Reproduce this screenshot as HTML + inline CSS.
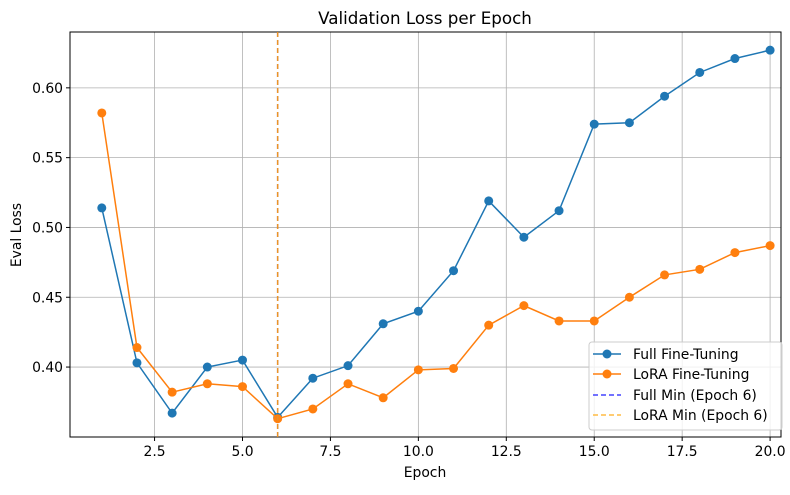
<!DOCTYPE html>
<html><head><meta charset="utf-8"><style>
body{margin:0;background:#fff;font-family:"Liberation Sans","DejaVu Sans",sans-serif}
svg text{font-family:"DejaVu Sans","Liberation Sans",sans-serif}
</style></head><body>
<svg id="chart" width="790" height="490" viewBox="0 0 790 490" xmlns="http://www.w3.org/2000/svg">
<rect width="790" height="490" fill="#fff"/>
<g id="grid"></g>
<g id="axes"></g>
<g id="marks"></g>
<text x="425" y="24" text-anchor="middle" font-size="16.7" fill="#000">Validation Loss per Epoch</text>
<text x="425" y="477" text-anchor="middle" font-size="13.9" fill="#000">Epoch</text>
<text x="21" y="235" text-anchor="middle" font-size="13.9" fill="#000" transform="rotate(-90 21 235)">Eval Loss</text>
<g>
<rect x="589" y="342" width="193" height="88" rx="3" fill="#fff" fill-opacity="0.8" stroke="#ccc"/>
<line x1="593" y1="354" x2="621" y2="354" stroke="#1f77b4" stroke-width="1.5"/><circle cx="607" cy="354" r="4.5" fill="#1f77b4"/>
<text x="633" y="359" font-size="13.9">Full Fine-Tuning</text>
<line x1="593" y1="374" x2="621" y2="374" stroke="#ff7f0e" stroke-width="1.5"/><circle cx="607" cy="374" r="4.5" fill="#ff7f0e"/>
<text x="633" y="379" font-size="13.9">LoRA Fine-Tuning</text>
<line x1="593" y1="395" x2="621" y2="395" stroke="#4444ff" stroke-width="1.5" stroke-dasharray="5,3"/>
<text x="633" y="400" font-size="13.9">Full Min (Epoch 6)</text>
<line x1="593" y1="415" x2="621" y2="415" stroke="#ffbb44" stroke-width="1.5" stroke-dasharray="5,3"/>
<text x="633" y="420" font-size="13.9">LoRA Min (Epoch 6)</text>
</g>
</svg>
<script>
const epochs=[1,2,3,4,5,6,7,8,9,10,11,12,13,14,15,16,17,18,19,20];
const fullLoss=[0.514,0.403,0.367,0.400,0.405,0.364,0.392,0.401,0.431,0.440,0.469,0.519,0.493,0.512,0.574,0.575,0.594,0.611,0.621,0.627];
const loraLoss=[0.582,0.414,0.382,0.388,0.386,0.363,0.370,0.388,0.378,0.398,0.399,0.430,0.444,0.433,0.433,0.450,0.466,0.470,0.482,0.487];
const xTicks=[2.5,5.0,7.5,10.0,12.5,15.0,17.5,20.0];
const yTicks=[0.40,0.45,0.50,0.55,0.60];
const fullMinEpoch=6, loraMinEpoch=6;
const L=70,R=781,T=32,B=437,xMin=0.096,xMax=20.31,yMin=0.3499,yMax=0.640;
const sx=v=>L+(v-xMin)/(xMax-xMin)*(R-L);
const sy=v=>B-(v-yMin)/(yMax-yMin)*(B-T);
const NS="http://www.w3.org/2000/svg";
function mk(tag,attrs,parent){const e=document.createElementNS(NS,tag);for(const k in attrs)e.setAttribute(k,attrs[k]);parent.appendChild(e);return e;}
const grid=document.getElementById('grid'),axes=document.getElementById('axes'),marks=document.getElementById('marks');
xTicks.forEach(t=>{const x=sx(t);
 const g=mk('line',{x1:x,x2:x,y1:T,y2:B,stroke:'#b0b0b0','stroke-width':0.8},grid);
 
 
 mk('line',{x1:x,x2:x,y1:B,y2:B+4,stroke:'#000'},axes);
 const tx=mk('text',{x:x,y:B+19,'text-anchor':'middle','font-size':13.9},axes);tx.textContent=t.toFixed(1);
 
 
});
yTicks.forEach(t=>{const y=sy(t);
 const g=mk('line',{x1:L,x2:R,y1:y,y2:y,stroke:'#b0b0b0','stroke-width':0.8},grid);
 
 
 mk('line',{x1:L-4,x2:L,y1:y,y2:y,stroke:'#000'},axes);
 const tx=mk('text',{x:L-7,y:y+5,'text-anchor':'end','font-size':13.9},axes);tx.textContent=t.toFixed(2);
 
 
});
mk('rect',{x:L,y:T,width:R-L,height:B-T,fill:'none',stroke:'#000','stroke-width':1},axes);
function series(vals,color,name){
 const p=mk('polyline',{points:epochs.map((e,i)=>sx(e)+','+sy(vals[i])).join(' '),fill:'none',stroke:color,'stroke-width':1.5},marks);
 
 
 epochs.forEach((e,i)=>{const c=mk('circle',{cx:sx(e),cy:sy(vals[i]),r:4.5,fill:color},marks);
  
  });
}
series(fullLoss,'#1f77b4','full');
series(loraLoss,'#ff7f0e','lora');
const v1=mk('line',{x1:sx(fullMinEpoch),x2:sx(fullMinEpoch),y1:T,y2:B,stroke:'#4444ff','stroke-opacity':0.7,'stroke-width':1.5,'stroke-dasharray':'5,3'},marks);


const v2=mk('line',{x1:sx(loraMinEpoch),x2:sx(loraMinEpoch),y1:T,y2:B,stroke:'#ff9900','stroke-opacity':0.85,'stroke-width':1.5,'stroke-dasharray':'5,3'},marks);


</script>
</body></html>
